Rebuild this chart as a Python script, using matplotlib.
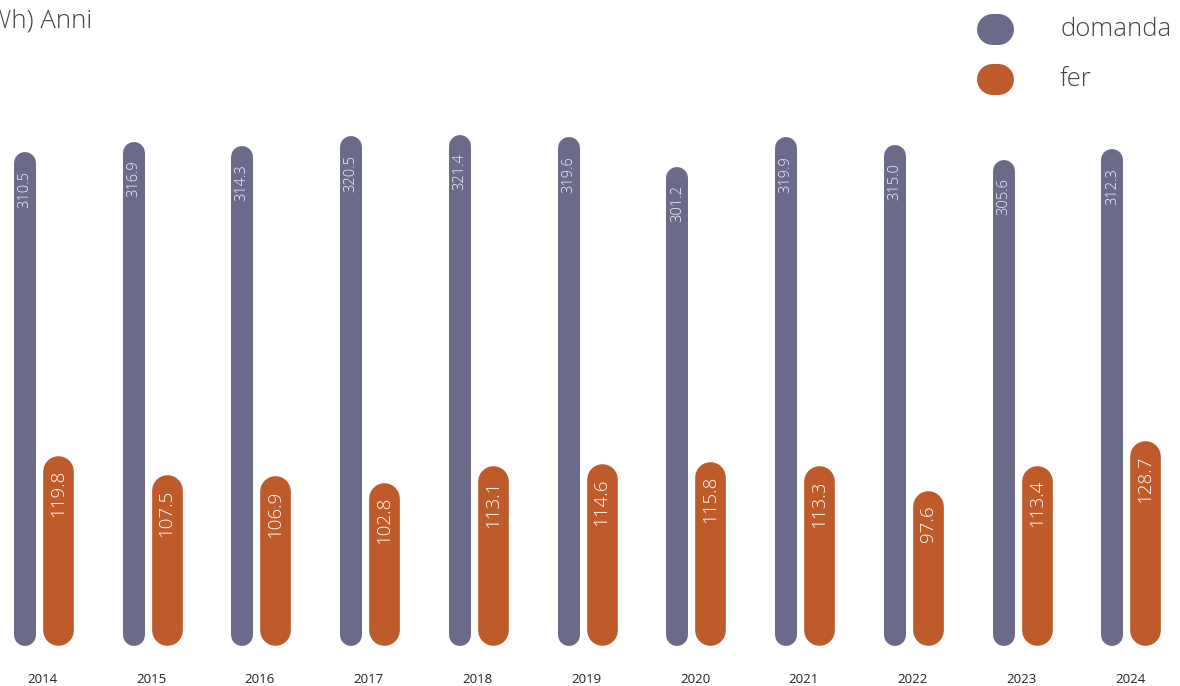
import numpy as np
import matplotlib.pyplot as plt
from matplotlib.lines import Line2D

# dati (TWh)
anni = ["2014", "2015", "2016", "2017", "2018", "2019", "2020", "2021", "2022", "2023", "2024"]
domanda = [310.5, 316.9, 314.3, 320.5, 321.4, 319.6, 301.2, 319.9, 315.0, 305.6, 312.3]
fer = [119.8, 107.5, 106.9, 102.8, 113.1, 114.6, 115.8, 113.3, 97.6, 113.4, 128.7]
serie = ["domanda", "fer"]

col_dom = "#6c6a8b"
col_fer = "#bf5a2a"
col_txt = "#444444"

plt.rcParams["font.family"] = ["Open Sans", "DejaVu Sans"]

W, H = 1180, 686
fig = plt.figure(figsize=(W / 100, H / 100), dpi=100)
ax = fig.add_axes([0, 40.3 / H, 1, 645.7 / H])
ax.set_xlim(-0.39, 10.46)
ax.set_ylim(0, 406)
for s in ax.spines.values():
    s.set_visible(False)
ax.set_yticks([])
ax.set_xticks(np.arange(len(anni)), anni)
ax.tick_params(axis="x", length=0, pad=20, labelsize=9.5, labelcolor="#222222")

# pixel per unita' sugli assi
p0 = ax.transData.transform((0, 0))
p1 = ax.transData.transform((1, 1))
px_x = p1[0] - p0[0]
px_y = p1[1] - p0[1]


def pillola(xc, w, h, color):
    # barra con estremi tondi: linea spessa con cap rotondo
    wpx = w * px_x
    ry = (wpx / 2) / px_y
    ax.plot([xc, xc], [ry, h - ry], color=color, lw=wpx * 0.72,
            solid_capstyle="round", clip_on=False)


x = np.arange(len(anni))
w_dom, w_fer = 0.202, 0.282
off_dom, off_fer = 0.162, 0.142

for i in range(len(anni)):
    pillola(x[i] - off_dom, w_dom, domanda[i], col_dom)
    pillola(x[i] + off_fer, w_fer, fer[i], col_fer)
    ax.annotate("%.1f" % domanda[i], (x[i] - off_dom, domanda[i]), xytext=(0, -13.5),
                textcoords="offset points", rotation=90, ha="center", va="top",
                fontsize=10.5, color="#f2f2f6", fontweight="light")
    ax.annotate("%.1f" % fer[i], (x[i] + off_fer, fer[i]), xytext=(0, -10.5),
                textcoords="offset points", rotation=90, ha="center", va="top",
                fontsize=13.5, color="white", fontweight="light")

# titolo tagliato a sinistra come nell'originale
fig.text(92 / W, 1 - 27 / H, "(TWh) Anni", ha="right", va="baseline",
         fontsize=18.5, color=col_txt, fontweight="light")

# legenda
for k, (nome, c) in enumerate(zip(serie, [col_dom, col_fer])):
    yc = 1 - (29 + k * 50) / H
    fig.lines.append(Line2D([992 / W, 998 / W], [yc, yc], color=c, lw=31 * 0.72,
                            solid_capstyle="round", transform=fig.transFigure))
    fig.text(1060 / W, yc, nome, ha="left", va="center",
             fontsize=18.5, color=col_txt, fontweight="light")

fig.savefig("out.png", dpi=100)
